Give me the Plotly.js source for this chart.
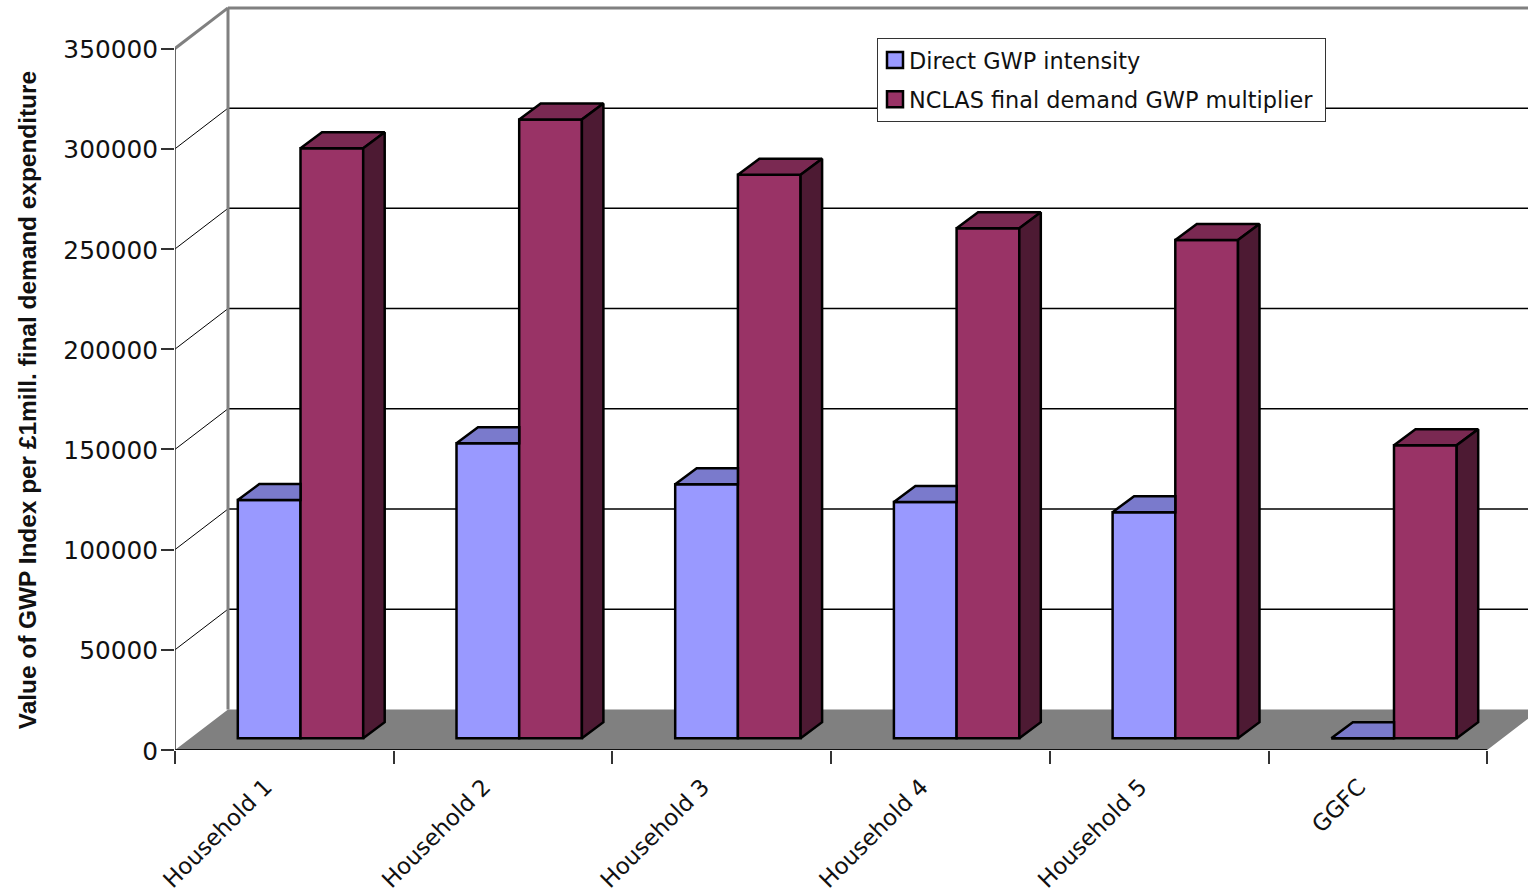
<!DOCTYPE html>
<html>
<head>
<meta charset="utf-8">
<title>GWP intensity by final demand category</title>
<script src="https://cdn.plot.ly/plotly-3.0.1.min.js"></script>
<style>html,body{margin:0;padding:0;background:#fff}#chart{width:1528px;height:893px}</style>
</head>
<body>
<div id="chart"></div>
<script>
// Final demand categories and the two GWP series
const categories = ['Household 1', 'Household 2', 'Household 3', 'Household 4', 'Household 5', 'GGFC'];
const directIntensity = [118800, 147200, 126700, 117800, 112800, 0];
const nclasMultiplier = [294300, 308700, 281100, 254400, 248600, 146200];
const yTicks = [0, 50000, 100000, 150000, 200000, 250000, 300000, 350000];

// Oblique projection of the box, in axis units
const unitsPerPx = 498.6;
const catPx = 218.7;
const baseY = 750.5;                                      // pixel row of the front edge
const wallDX = 53 / catPx, wallDY = 40.6 * unitsPerPx;    // front plane to back wall
const faceDX = 21.5 / catPx, faceDY = 16 * unitsPerPx;    // depth of each column
const lift = 11.8 * unitsPerPx;                           // column feet above the front edge
const barW = 62.7 / catPx;
const startX = 62.8 / catPx;
const xMax = (1528 - 175) / catPx, yMax = baseY * unitsPerPx;

const INK = '#000', WALL = '#808080', AXIS = '#333';
const edge = {color: INK, width: 2.5};

function poly(xs, ys, fill) {
  return {type: 'scatter', mode: 'lines', x: xs.concat(xs[0]), y: ys.concat(ys[0]),
          fill: 'toself', fillcolor: fill, line: edge, hoverinfo: 'skip', showlegend: false};
}

const traces = [];
const xBlue = categories.map((_, i) => i + startX + barW / 2);
const xRed = categories.map((_, i) => i + startX + barW * 1.5);

traces.push({type: 'bar', x: xBlue, y: directIntensity, base: lift, width: barW,
  marker: {color: '#9999ff', line: edge}, showlegend: false, hoverinfo: 'y'});
traces.push({type: 'bar', x: xRed, y: nclasMultiplier, base: lift, width: barW,
  marker: {color: '#993366', line: edge}, showlegend: false, hoverinfo: 'y'});

categories.forEach((_, i) => {
  const x0 = i + startX, x1 = x0 + barW, x2 = x1 + barW;
  const tb = directIntensity[i] + lift, tr = nclasMultiplier[i] + lift;
  // Blue lid stops where the red column starts
  traces.push(poly([x0, x0 + faceDX, x1, x1], [tb, tb + faceDY, tb + faceDY, tb], '#7a7acc'));
  traces.push(poly([x1, x1 + faceDX, x2 + faceDX, x2], [tr, tr + faceDY, tr + faceDY, tr], '#7a2952'));
  traces.push(poly([x2, x2 + faceDX, x2 + faceDX, x2], [lift, lift + faceDY, tr + faceDY, tr], '#4d1a33'));
});

const yTop = yTicks[yTicks.length - 1];

// Front edges of the box, allowed to overhang the plot area by half a line width
traces.push({type: 'scatter', mode: 'lines', x: [0, 6], y: [0, 0], cliponaxis: false,
  line: {color: '#111', width: 2}, hoverinfo: 'skip', showlegend: false});
traces.push({type: 'scatter', mode: 'lines', x: [0, 0], y: [0, yTop], cliponaxis: false,
  line: {color: AXIS, width: 1.5}, hoverinfo: 'skip', showlegend: false});

// Legend keys
[['Direct GWP intensity', '#9999ff'], ['NCLAS final demand GWP multiplier', '#993366']].forEach(([name, color], i) => {
  traces.push({type: 'scatter', mode: 'markers', x: [null], y: [null], name, legendgroup: 'g' + i,
    marker: {symbol: 'square', size: 16, color, line: {color: INK, width: 2.5}}});
});

// Floor and walls sit under the columns
const shapes = [];
shapes.push({type: 'path', xref: 'x', yref: 'y', layer: 'below',
  path: `M0,0 L${wallDX},${wallDY} L${xMax + 1},${wallDY} L${6 + wallDX},${wallDY} L6,0 Z`,
  fillcolor: WALL, line: {width: 0}});
yTicks.slice(1, -1).forEach(v => {
  shapes.push({type: 'line', xref: 'x', yref: 'y', layer: 'below', x0: 0, y0: v, x1: wallDX, y1: v + wallDY, line: {color: INK, width: 1}});
  shapes.push({type: 'line', xref: 'x', yref: 'y', layer: 'below', x0: wallDX, y0: v + wallDY, x1: xMax, y1: v + wallDY, line: {color: INK, width: 1.5}});
});
[[0, yTop, wallDX, yTop + wallDY], [wallDX, wallDY, wallDX, yTop + wallDY], [wallDX, yTop + wallDY, xMax, yTop + wallDY]].forEach(s => {
  shapes.push({type: 'line', xref: 'x', yref: 'y', layer: 'below', x0: s[0], y0: s[1], x1: s[2], y1: s[3], line: {color: WALL, width: 3}});
});

const layout = {
  width: 1528, height: 893,
  margin: {l: 175, r: 0, t: 0, b: 893 - baseY, pad: 0},
  paper_bgcolor: '#fff', plot_bgcolor: '#fff',
  barmode: 'overlay',
  showlegend: true,
  hovermode: false,
  font: {family: '"DejaVu Sans", sans-serif', color: '#111', size: 24},
  xaxis: {
    type: 'linear', range: [0, xMax], showgrid: false, zeroline: false, showline: false,
    tickmode: 'array', tickvals: categories.map((_, i) => i + 0.5), ticktext: categories,
    tickangle: -45, ticks: '', ticklabelstandoff: 18, ticklabelshift: -19,
    tickfont: {family: '"DejaVu Sans", sans-serif', size: 22.8, color: '#111'},
    minor: {tickmode: 'linear', tick0: 0, dtick: 1, ticks: 'outside', ticklen: 13, tickwidth: 1.5, tickcolor: AXIS, showgrid: false}
  },
  yaxis: {
    range: [0, yMax], showgrid: false, zeroline: false, showline: false,
    tickmode: 'array', tickvals: yTicks, ticktext: yTicks.map(String),
    ticks: 'outside', ticklen: 13, tickwidth: 1.5, tickcolor: AXIS, ticklabelshift: 1, ticklabelstandoff: -2,
    tickfont: {family: '"DejaVu Sans", sans-serif', size: 24.8, color: '#111'}
  },
  legend: {
    x: (877 - 175) / 1353, y: 1 - 38 / baseY, xanchor: 'left', yanchor: 'top',
    bgcolor: '#fff', bordercolor: AXIS, borderwidth: 1,
    font: {family: '"DejaVu Sans", sans-serif', size: 22.4, color: '#111'},
    traceorder: 'grouped', tracegroupgap: 7, itemclick: false, itemdoubleclick: false,
    indentation: -3, entrywidth: 410, entrywidthmode: 'pixels'
  },
  shapes,
  annotations: [{
    text: '<b>Value of GWP Index per £1mill. final demand expenditure</b>',
    xref: 'paper', yref: 'paper', x: (27.5 - 175) / 1353, y: 1 - 401 / baseY,
    xanchor: 'center', yanchor: 'middle', textangle: -90, showarrow: false,
    font: {family: '"Liberation Sans", Arial, sans-serif', size: 24.4, color: '#111'}
  }]
};

Plotly.newPlot('chart', traces, layout, {displayModeBar: false, responsive: false}).then(() => {
  // Pull the legend labels in towards their keys
  document.querySelectorAll('.legendtext').forEach(t => {
    t.setAttribute('x', parseFloat(t.getAttribute('x')) - 6);
  });
});
</script>
</body>
</html>
